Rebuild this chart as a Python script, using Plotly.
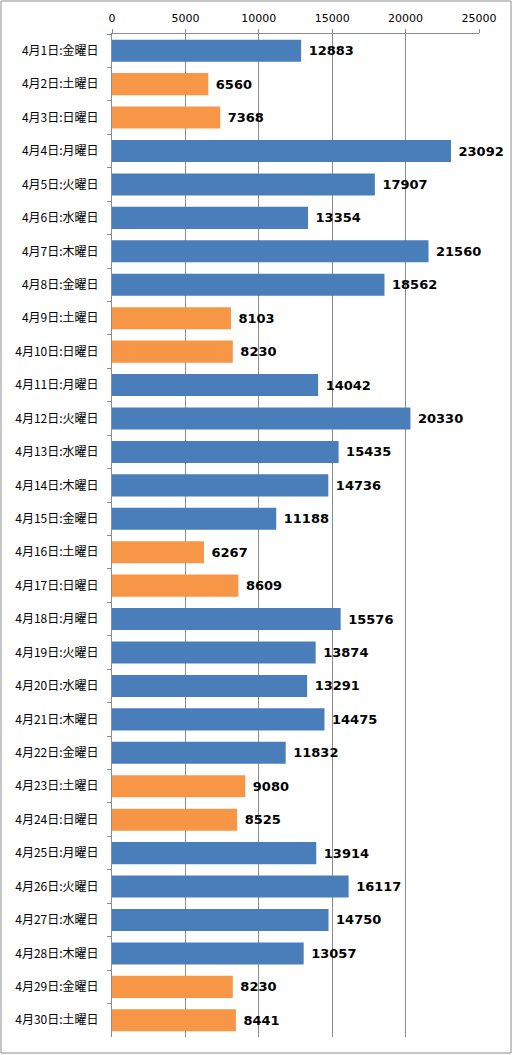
import plotly.graph_objects as go

days = [f"4月{d}日" for d in range(1, 31)]
weekdays = ["金", "土", "日", "月", "火", "水", "木", "金", "土", "日",
            "月", "火", "水", "木", "金", "土", "日", "月", "火", "水",
            "木", "金", "土", "日", "月", "火", "水", "木", "金", "土"]
values = [12883, 6560, 7368, 23092, 17907, 13354, 21560, 18562, 8103, 8230,
          14042, 20330, 15435, 14736, 11188, 6267, 8609, 15576, 13874, 13291,
          14475, 11832, 9080, 8525, 13914, 16117, 14750, 13057, 8230, 8441]
# 休日 (土日祝) = 1
holiday = [0, 1, 1, 0, 0, 0, 0, 0, 1, 1,
           0, 0, 0, 0, 0, 1, 1, 0, 0, 0,
           0, 0, 1, 1, 0, 0, 0, 0, 1, 1]
x_ticks = [0, 5000, 10000, 15000, 20000, 25000]

labels = [f"{d}:{w}曜日" for d, w in zip(days, weekdays)]
colors = ["#F79646" if h else "#4A7EBB" for h in holiday]

fig = go.Figure(go.Bar(
    x=values,
    y=labels,
    orientation="h",
    marker=dict(color=colors, line=dict(width=0)),
    texttemplate=" %{x:d}",
    textposition="outside",
    textfont=dict(family="DejaVu Sans", size=13, color="black", weight="bold"),
    cliponaxis=False,
    hoverinfo="skip",
))

W, H = 513, 1055
ml, mr, mt, mb = 112, 34, 34, 18
pw, ph = W - ml - mr, H - mt - mb

fig.update_layout(
    width=W,
    height=H,
    margin=dict(l=ml, r=mr, t=mt, b=mb, autoexpand=False),
    plot_bgcolor="white",
    paper_bgcolor="white",
    bargap=0.34,
    showlegend=False,
    font=dict(family="Noto Sans CJK JP", color="black"),
    xaxis=dict(
        side="top",
        range=[0, 25000],
        tickvals=x_ticks,
        ticktext=[str(t) for t in x_ticks],
        automargin=False,
        showgrid=True,
        gridcolor="#8C8C8C",
        gridwidth=1,
        zeroline=False,
        showline=True,
        linecolor="#8C8C8C",
        ticks="outside",
        ticklen=4,
        tickcolor="#8C8C8C",
        ticklabelstandoff=3,
        tickfont=dict(family="DejaVu Sans", size=11, color="black"),
    ),
    yaxis=dict(
        autorange="reversed",
        automargin=False,
        showline=True,
        linecolor="#8C8C8C",
        ticks="outside",
        tickson="boundaries",
        ticklen=4,
        tickcolor="#8C8C8C",
        ticklabelstandoff=10,
        showgrid=False,
        tickfont=dict(family="Noto Sans CJK JP", size=12, color="black"),
    ),
    shapes=[dict(
        type="rect", xref="paper", yref="paper",
        x0=-(ml - 1) / pw, x1=1 + (mr - 2) / pw,
        y0=-(mb - 2) / ph, y1=1 + (mt - 1) / ph,
        line=dict(color="#8C8C8C", width=1),
    )],
)

fig.write_html("out.html", config={"displayModeBar": False},
               post_script="document.body.style.margin='0';")
